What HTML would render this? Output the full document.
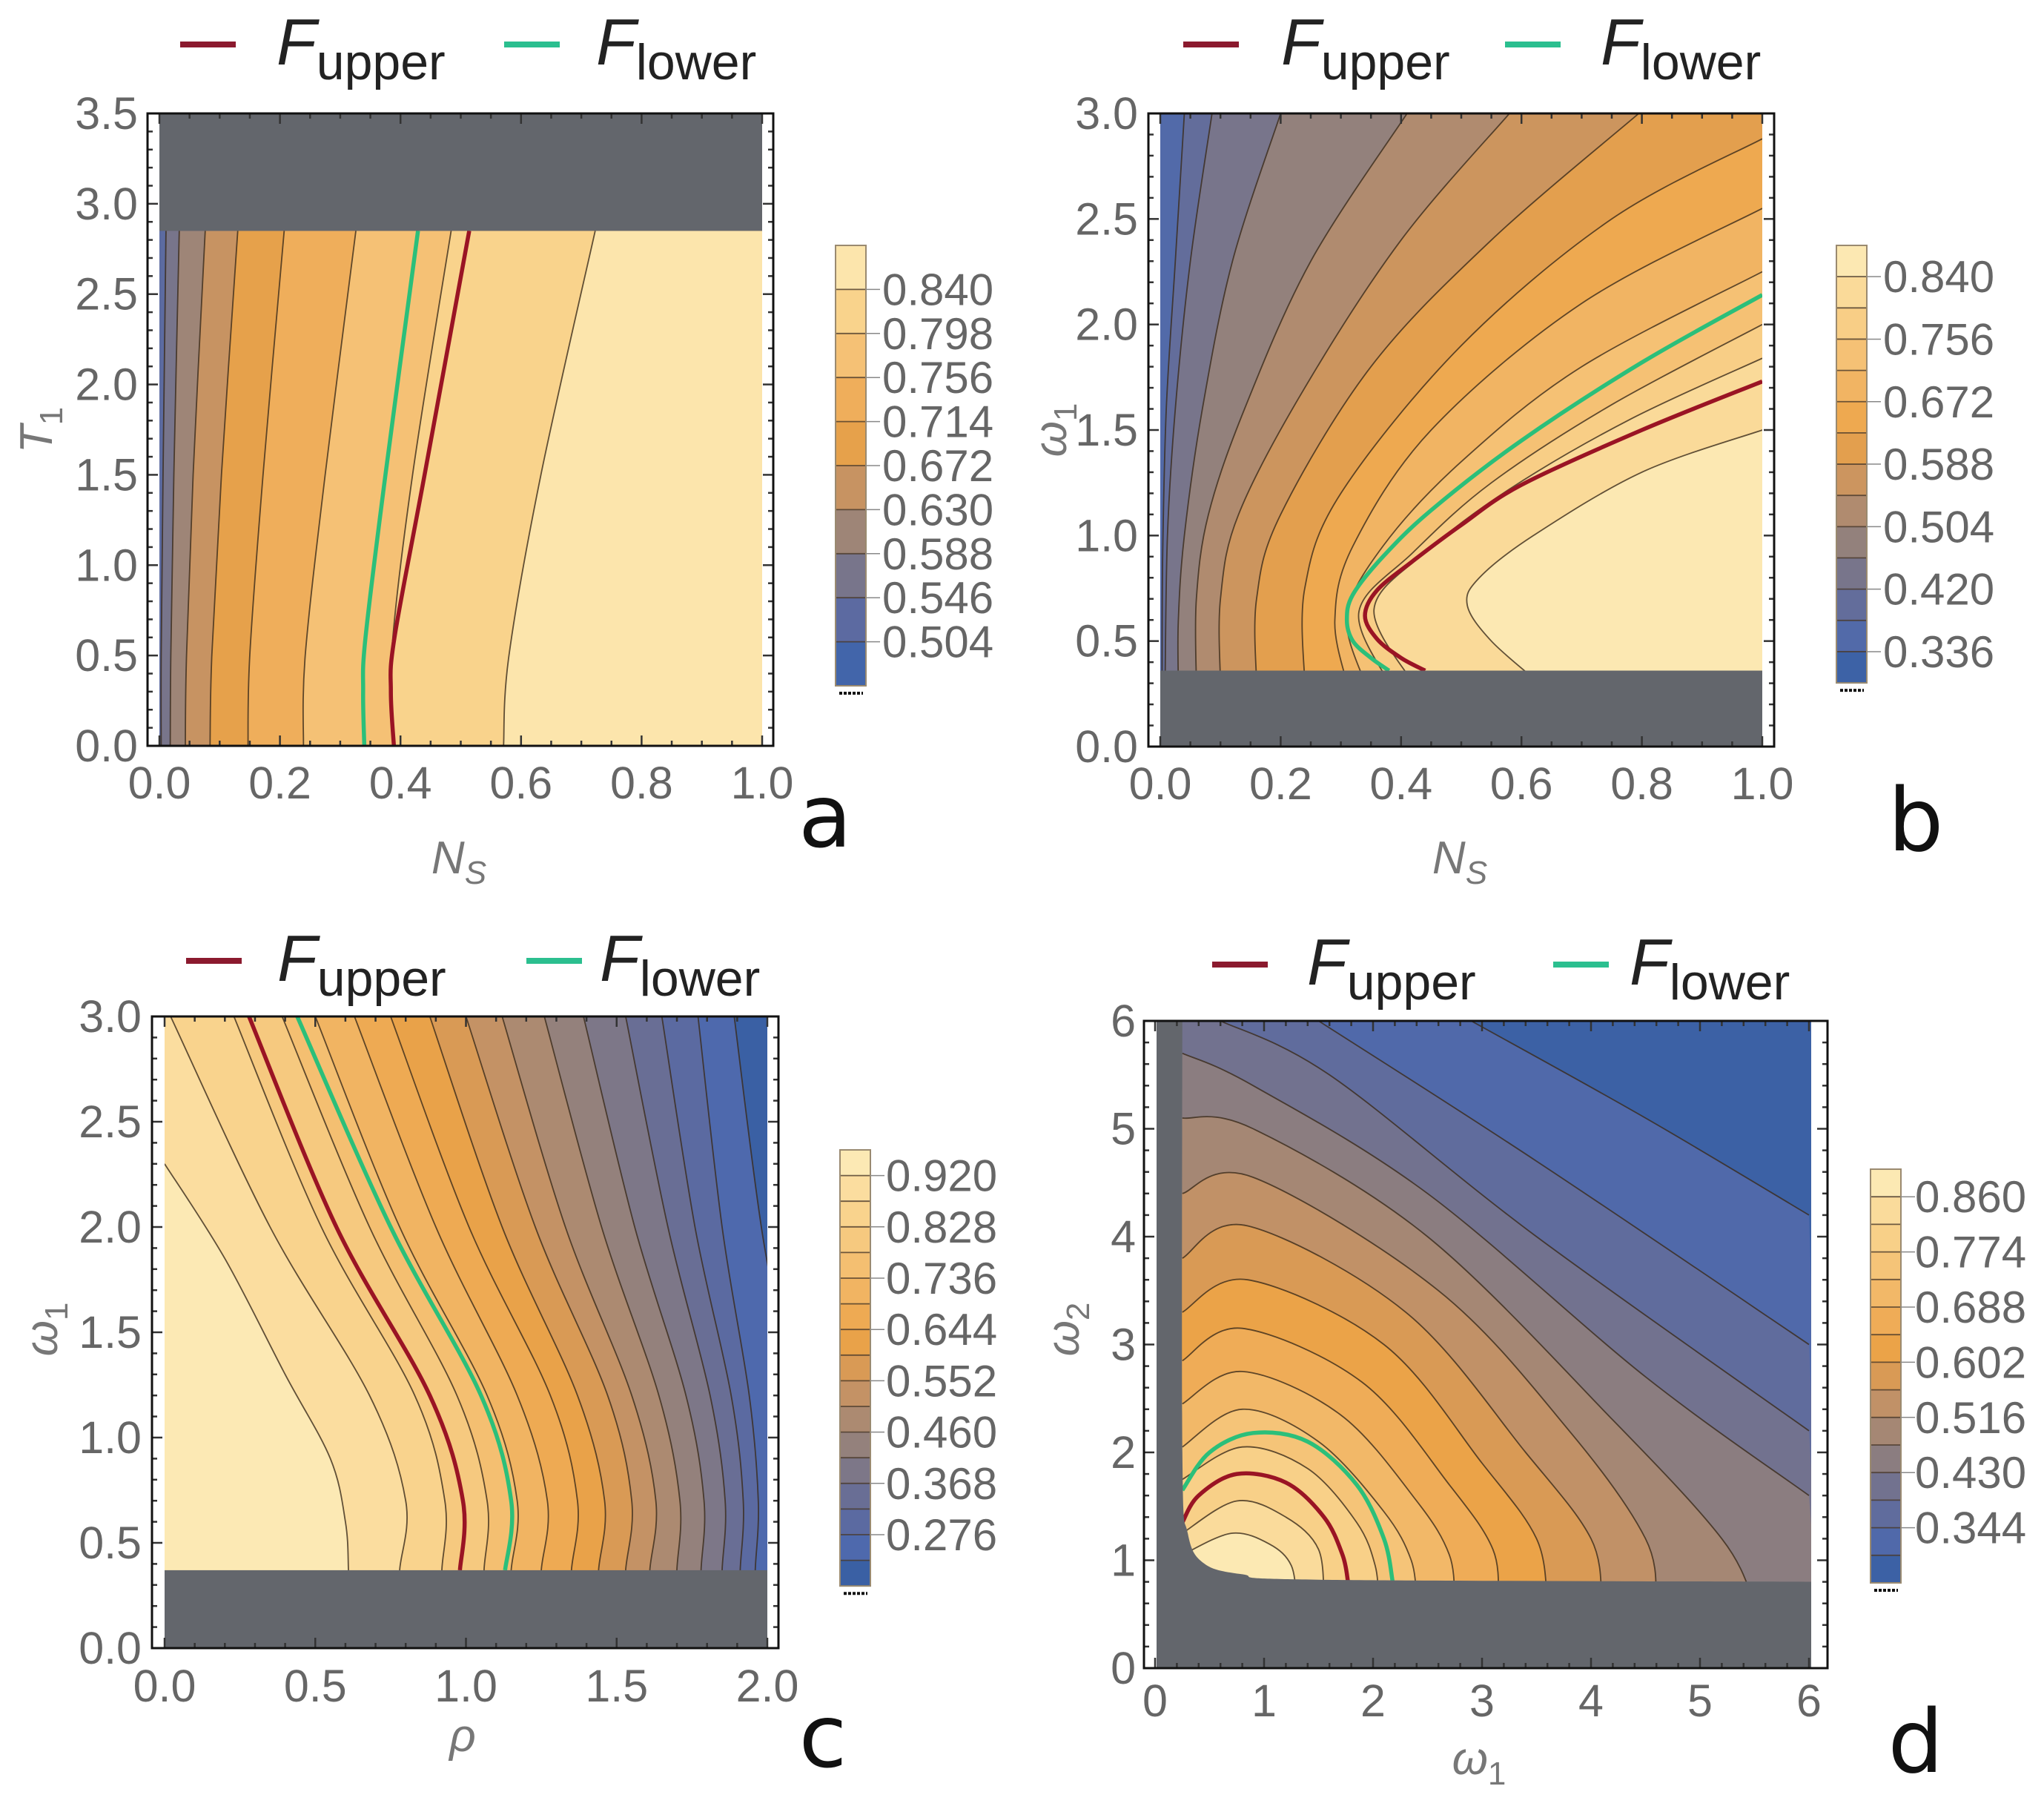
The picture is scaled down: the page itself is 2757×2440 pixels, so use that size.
<!DOCTYPE html>
<html>
<head>
<meta charset="utf-8">
<style>
html,body{margin:0;padding:0;background:#fff;}
svg{display:block;}
</style>
</head>
<body>
<svg id="chart" width="2757" height="2440" viewBox="0 0 2757 2440" xmlns="http://www.w3.org/2000/svg"></svg>
<script>
// ---------------- DATA ----------------
const palette = ['#fdf0c0','#fbe0a4','#f9d48e','#f6c77d','#f3bb6c','#efad59','#eca447','#d99a55','#bf9068','#a18676','#857b83','#6b6f93','#5a6aa2','#4a69b0','#2f5a9c'];

// Panel a : x = N_S, y = T_1
const aT = [0, 0.5, 1.5, 2.85];
const aLevels = [0.546,0.588,0.630,0.672,0.714,0.756,0.798,0.840];
const aContourN = [
  [0.003,0.003,0.006,0.011],
  [0.018,0.019,0.024,0.033],
  [0.043,0.045,0.056,0.076],
  [0.084,0.087,0.103,0.130],
  [0.147,0.150,0.172,0.207],
  [0.239,0.242,0.275,0.326],
  [0.389,0.385,0.420,0.484],
  [0.571,0.580,0.633,0.723]
];
const aLineT = [0, 0.3, 0.6, 1.5, 2.85];
const aGreenN = [0.340,0.338,0.342,0.375,0.429];
const aRedN = [0.389,0.384,0.390,0.440,0.514];
const aGrayFromT = 2.85;
const aBarLabels = [0.840,0.798,0.756,0.714,0.672,0.630,0.588,0.546,0.504];

// Panel b : x = N_S, y = omega_1
const bLevels = [0.378,0.420,0.462,0.504,0.546,0.588,0.630,0.672,0.714,0.756,0.798,0.840];
const bContours = [
  [[0.04,3],[0.025,2.3],[0.01,1.6],[0.004,0.9],[0.003,0.3]],
  [[0.086,3],[0.05,2.3],[0.025,1.6],[0.012,1.0],[0.008,0.3]],
  [[0.2,3],[0.12,2.3],[0.07,1.6],[0.04,1.0],[0.03,0.6],[0.03,0.3]],
  [[0.41,3],[0.25,2.3],[0.14,1.6],[0.08,1.1],[0.06,0.7],[0.06,0.3]],
  [[0.58,3],[0.4,2.4],[0.24,1.7],[0.13,1.1],[0.1,0.7],[0.1,0.3]],
  [[0.795,3],[0.55,2.4],[0.35,1.8],[0.2,1.1],[0.16,0.7],[0.16,0.3]],
  [[1,2.88],[0.75,2.5],[0.5,1.9],[0.3,1.2],[0.24,0.75],[0.24,0.3]],
  [[1,2.55],[0.7,2.1],[0.45,1.5],[0.32,0.95],[0.29,0.6],[0.31,0.3]],
  [[1,2.25],[0.7,1.8],[0.5,1.35],[0.37,0.95],[0.31,0.62],[0.34,0.3]],
  [[1,2.0],[0.75,1.62],[0.55,1.25],[0.42,0.92],[0.33,0.64],[0.38,0.3]],
  [[1,1.84],[0.78,1.55],[0.58,1.22],[0.44,0.92],[0.355,0.65],[0.42,0.3]],
  [[1,1.5],[0.8,1.3],[0.62,1.0],[0.53,0.8],[0.51,0.67],[0.55,0.5],[0.63,0.3]]
];
const bGreen = [[1,2.14],[0.8,1.82],[0.6,1.45],[0.45,1.12],[0.37,0.9],[0.32,0.72],[0.31,0.6],[0.32,0.5],[0.35,0.42],[0.38,0.36]];
const bRed = [[1,1.73],[0.8,1.5],[0.6,1.24],[0.5,1.05],[0.42,0.88],[0.36,0.74],[0.34,0.62],[0.36,0.51],[0.40,0.42],[0.44,0.36]];
const bGrayBelow = 0.36;
const bBarLabels = [0.840,0.756,0.672,0.588,0.504,0.420,0.336];

// Panel c : x = rho, y = omega_1
const cOmega = [3.0, 2.0, 1.2, 0.7, 0.37, 0.2];
const cLevels = [0.230,0.276,0.322,0.368,0.414,0.460,0.506,0.552,0.598,0.644,0.690,0.736,0.782,0.828,0.874];
const cContourRho = [
  [1.89,1.98,2.08,2.10,2.10,2.10],
  [1.77,1.85,1.94,1.97,1.96,1.96],
  [1.65,1.76,1.88,1.92,1.91,1.91],
  [1.53,1.67,1.81,1.86,1.85,1.85],
  [1.39,1.56,1.73,1.79,1.78,1.78],
  [1.26,1.45,1.64,1.71,1.70,1.70],
  [1.12,1.33,1.55,1.63,1.61,1.61],
  [1.00,1.23,1.47,1.55,1.53,1.53],
  [0.88,1.12,1.37,1.46,1.44,1.44],
  [0.75,1.01,1.28,1.37,1.35,1.35],
  [0.63,0.90,1.17,1.27,1.25,1.25],
  [0.50,0.78,1.07,1.17,1.15,1.15],
  [0.39,0.68,0.97,1.07,1.06,1.06],
  [0.23,0.52,0.83,0.93,0.92,0.92],
  [0.02,0.35,0.68,0.80,0.78,0.78]
];
const cWhiteLevel = 0.920;
const cWhite = [[0,2.3],[0.2,1.85],[0.4,1.3],[0.55,0.9],[0.6,0.6],[0.61,0.37],[0.61,0.2]];
const cGreenRho = [0.44,0.75,1.05,1.15,1.13];
const cRedRho = [0.28,0.57,0.88,0.99,0.98];
const cGrayBelow = 0.37;
const cBarLabels = [0.920,0.828,0.736,0.644,0.552,0.460,0.368,0.276];

// Panel d : x = omega_1, y = omega_2
const dLevels = [0.301,0.344,0.387,0.430,0.473,0.516,0.559,0.602,0.645,0.688,0.731,0.774,0.817,0.860];
const dContours = [
  [[2.9,6],[4.5,5.1],[6,4.2]],
  [[1.5,6],[3.5,4.7],[6,3.0]],
  [[0.6,6],[1.6,5.5],[3.5,4.0],[6,2.2]],
  [[0.25,5.7],[0.9,5.4],[2.5,4.4],[4.5,2.7],[6,1.6]],
  [[0.25,5.1],[0.9,5.0],[2.5,4.0],[4.2,2.3],[5.2,1.2],[5.5,0.6]],
  [[0.25,4.4],[0.9,4.55],[2.6,3.5],[3.8,2.2],[4.5,1.2],[4.6,0.6]],
  [[0.25,3.8],[0.85,4.1],[2.3,3.3],[3.4,2.0],[4.0,1.2],[4.1,0.6]],
  [[0.25,3.3],[0.85,3.6],[2.1,3.0],[3.0,1.9],[3.5,1.2],[3.6,0.6]],
  [[0.25,2.85],[0.8,3.15],[1.9,2.65],[2.7,1.7],[3.1,1.1],[3.15,0.6]],
  [[0.25,2.45],[0.8,2.75],[1.7,2.35],[2.4,1.55],[2.7,1.05],[2.75,0.6]],
  [[0.25,2.05],[0.8,2.4],[1.5,2.1],[2.1,1.45],[2.35,1.0],[2.4,0.6]],
  [[0.25,1.75],[0.8,2.05],[1.4,1.85],[1.85,1.35],[2.02,0.95],[2.05,0.6]],
  [[0.25,1.25],[0.75,1.55],[1.2,1.4],[1.5,1.1],[1.55,0.6]],
  [[0.25,1.05],[0.7,1.25],[1.05,1.15],[1.25,0.95],[1.3,0.6]]
];
const dRed = [[0.25,1.35],[0.4,1.6],[0.75,1.8],[1.2,1.72],[1.55,1.4],[1.72,1.05],[1.77,0.8]];
const dGreen = [[0.25,1.65],[0.5,2.0],[0.9,2.18],[1.4,2.1],[1.85,1.7],[2.1,1.2],[2.18,0.8]];
const dGrayEdge = [[0.25,6.2],[0.25,2.0],[0.3,1.25],[0.45,0.97],[0.8,0.87],[1.5,0.82],[6.2,0.8]];
const dBarLabels = [0.860,0.774,0.688,0.602,0.516,0.430,0.344];

// ---------------- HELPERS ----------------
const NS='http://www.w3.org/2000/svg';
const svg=document.getElementById('chart');
function mk(tag,attrs,parent){const e=document.createElementNS(NS,tag);for(const k in attrs)e.setAttribute(k,attrs[k]);(parent||svg).appendChild(e);return e;}
function scale(d0,d1,p0,p1){return v=>p0+(v-d0)*(p1-p0)/(d1-d0);}
function hex(c){return [parseInt(c.slice(1,3),16),parseInt(c.slice(3,5),16),parseInt(c.slice(5,7),16)];}
function colorAt(t){t=Math.max(0,Math.min(1,t));const f=(1-t)*(palette.length-1);const i=Math.floor(f);const j=Math.min(i+1,palette.length-1);const w=f-i;const a=hex(palette[i]),b=hex(palette[j]);return 'rgb('+a.map((v,k)=>Math.round(v+(b[k]-v)*w)).join(',')+')';}
function smooth(p){let d='M'+p[0][0].toFixed(1)+','+p[0][1].toFixed(1);for(let i=0;i<p.length-1;i++){const p0=p[i-1]||p[i],p1=p[i],p2=p[i+1],p3=p[i+2]||p2;const c1=[p1[0]+(p2[0]-p0[0])/6,p1[1]+(p2[1]-p0[1])/6];const c2=[p2[0]-(p3[0]-p1[0])/6,p2[1]-(p3[1]-p1[1])/6];d+=' C'+c1[0].toFixed(1)+','+c1[1].toFixed(1)+' '+c2[0].toFixed(1)+','+c2[1].toFixed(1)+' '+p2[0].toFixed(1)+','+p2[1].toFixed(1);}return d;}
function closeD(d,corners){return d+corners.map(c=>' L'+c[0].toFixed(1)+','+c[1].toFixed(1)).join('')+' Z';}
let clipId=0;
function mkClip(x,y,w,h){const id='clip'+(clipId++);const cp=mk('clipPath',{id:id});mk('rect',{x:x,y:y,width:w,height:h},cp);return id;}

function frame(g,x0,y0,x1,y1,sx,sy,xMaj,xMin,yMaj,yMin){
  const tk=mk('g',{stroke:'#333','stroke-width':2.5},g);
  
  
  xMaj.forEach(v=>{const x=sx(v);mk('line',{x1:x,y1:y1,x2:x,y2:y1-14},tk);mk('line',{x1:x,y1:y0,x2:x,y2:y0+14},tk);});
  xMin.forEach(v=>{const x=sx(v);mk('line',{x1:x,y1:y1,x2:x,y2:y1-7},tk);mk('line',{x1:x,y1:y0,x2:x,y2:y0+7},tk);});
  yMaj.forEach(v=>{const y=sy(v);mk('line',{x1:x0,y1:y,x2:x0+14,y2:y},tk);mk('line',{x1:x1,y1:y,x2:x1-14,y2:y},tk);});
  yMin.forEach(v=>{const y=sy(v);mk('line',{x1:x0,y1:y,x2:x0+7,y2:y},tk);mk('line',{x1:x1,y1:y,x2:x1-7,y2:y},tk);});
  const r=mk('rect',{x:x0,y:y0,width:x1-x0,height:y1-y0,fill:'none',stroke:'#111','stroke-width':3},g);
  
  
}
function range(a,b,s){const o=[];for(let v=a;v<=b+1e-9;v+=s)o.push(+v.toFixed(4));return o;}
function tickLabels(g,vals,fmt,sx,sy,axis,pos){
  vals.forEach(v=>{
    let t;
    if(axis==='x'){t=mk('text',{x:sx(v),y:pos,'text-anchor':'middle','font-size':61,fill:'#666','font-family':'Liberation Sans, sans-serif'},g);}
    else{t=mk('text',{x:pos,y:sy(v)+21,'text-anchor':'end','font-size':61,fill:'#666','font-family':'Liberation Sans, sans-serif'},g);}
    
    t.textContent=fmt(v);
  });
}
function colorbar(g,x,top,band,nb,vtop,step,labels,labelX){
  const cb=mk('g',{},g);
  
  
  const vbot=vtop-nb*step;
  for(let i=0;i<nb;i++){
    const mid=vtop-(i+0.5)*step;
    const r=mk('rect',{x:x,y:top+i*band,width:41,height:band+0.5,fill:colorAt((mid-vbot)/(vtop-vbot))},cb);
    
    
    if(i>0)mk('line',{x1:x,x2:x+41,y1:top+i*band,y2:top+i*band,stroke:'#4a3a2a','stroke-width':1.8,'stroke-opacity':0.8},cb);
  }
  mk('rect',{x:x,y:top,width:41,height:nb*band,fill:'none',stroke:'#9a8a70','stroke-width':2},cb);
  mk('line',{x1:x+5,x2:x+37,y1:top+nb*band+10,y2:top+nb*band+10,stroke:'#111','stroke-width':4,'stroke-dasharray':'4 2'},cb);
  labels.forEach(v=>{
    const y=top+(vtop-v)/step*band;
    mk('line',{x1:x+41,x2:x+60,y1:y,y2:y,stroke:'#888','stroke-width':1.5},cb);
    const t=mk('text',{x:labelX,y:y+21,'font-size':60,fill:'#666','font-family':'Liberation Sans, sans-serif'},cb);
    
    
    t.textContent=v.toFixed(3);
  });
}
function legend(g,y,l1,f1,l2,f2){
  const lg=mk('g',{'font-family':'Liberation Sans, sans-serif',fill:'#222'},g);
  
  
  const e1=mk('g',{},lg);
  
  
  mk('line',{x1:l1,x2:l1+75,y1:y,y2:y,stroke:'#8b1a2e','stroke-width':8},e1);
  const t1=mk('text',{x:f1,y:y+27},e1);
  t1.innerHTML='<tspan font-style="italic" font-size="88">F</tspan><tspan font-size="68" dy="20">upper</tspan>';
  const e2=mk('g',{},lg);
  
  
  mk('line',{x1:l2,x2:l2+75,y1:y,y2:y,stroke:'#2bbf8f','stroke-width':8},e2);
  const t2=mk('text',{x:f2,y:y+27},e2);
  t2.innerHTML='<tspan font-style="italic" font-size="88">F</tspan><tspan font-size="68" dy="20">lower</tspan>';
}
function axisTitle(g,x,y,html,rot,name){
  const t=mk('text',{x:x,y:y,'text-anchor':'middle','font-size':62,fill:'#777','font-family':'Liberation Sans, sans-serif'},g);
  if(rot)t.setAttribute('transform','rotate(-90 '+x+' '+y+')');
  
  
  t.innerHTML=html;
}
function letter(g,x,y,s){
  const t=mk('text',{x:x,y:y,'text-anchor':'middle','font-size':118,fill:'#111','font-family':'DejaVu Sans, sans-serif'},g);
  
  
  t.textContent=s;
}
function contourLine(g,d,name){const p=mk('path',{d:d,fill:'none',stroke:'#3a2a1a','stroke-width':1.8,'stroke-opacity':0.8},g);}
function fLine(g,d,color,name){const p=mk('path',{d:d,fill:'none',stroke:color,'stroke-width':5.5},g);}
const GRAY='#63666c';
const f1=v=>v.toFixed(1), f0=v=>v.toFixed(0);

// ---------------- PANEL A ----------------
(function(){
  const g=mk('g',{});
  
  
  const sx=scale(0,1,215,1028), sy=scale(0,3.5,1006,153);
  const vtop=0.882, step=0.042, vbot=0.462;
  const cid=mkClip(215,153,813,853);
  const area=mk('g',{'clip-path':'url(#'+cid+')'},g);
  
  
  mk('rect',{x:200,y:140,width:900,height:900,fill:colorAt((aLevels[0]-step/2-vbot)/(vtop-vbot))},area);
  aContourN.forEach((row,k)=>{
    const pts=row.map((n,i)=>[sx(n),sy(aT[i])]);
    const d=smooth(pts);
    const p=mk('path',{d:closeD(d,[[sx(1.1),pts[pts.length-1][1]],[sx(1.1),sy(0)+5],[pts[0][0],sy(0)+5]]),fill:colorAt((aLevels[k]+step/2-vbot)/(vtop-vbot))},area);
    
    
  });
  aContourN.forEach(row=>{contourLine(area,smooth(row.map((n,i)=>[sx(n),sy(aT[i])])),'contour-line');});
  fLine(area,smooth(aGreenN.map((n,i)=>[sx(n),sy(aLineT[i])])),'#2bbf7a','f-lower-curve');
  fLine(area,smooth(aRedN.map((n,i)=>[sx(n),sy(aLineT[i])])),'#9a1424','f-upper-curve');
  const gr=mk('rect',{x:200,y:140,width:900,height:sy(aGrayFromT)-140,fill:GRAY},area);
  
  
  frame(g,199,153,1043,1006,sx,sy,range(0,1,0.2),range(0.05,0.95,0.05).filter(v=>Math.abs(v*5-Math.round(v*5))>1e-6),range(0,3.5,0.5),range(0.1,3.4,0.1).filter(v=>Math.abs(v*2-Math.round(v*2))>1e-6));
  tickLabels(g,range(0,1,0.2),f1,sx,sy,'x',1077);
  tickLabels(g,range(0,3.5,0.5),f1,sx,sy,'y',186);
  colorbar(g,1127,331,59.4,10,vtop,step,aBarLabels,1190);
  legend(g,60,243,373,680,804);
  axisTitle(g,619,1178,'<tspan font-style="italic">N</tspan><tspan font-size="44" dy="14" font-style="italic">S</tspan>',false,'x-axis-title');
  axisTitle(g,70,580,'<tspan font-style="italic">T</tspan><tspan font-size="44" dy="14">1</tspan>',true,'y-axis-title');
  letter(g,1113,1142,'a');
})();

// ---------------- PANEL B ----------------
(function(){
  const g=mk('g',{});
  
  
  const sx=scale(0,1,1565,2377), sy=scale(0,3,1007,153);
  const vtop=0.882, step=0.042, vbot=0.294;
  const cid=mkClip(1565,153,812,854);
  const area=mk('g',{'clip-path':'url(#'+cid+')'},g);
  
  
  mk('rect',{x:1550,y:140,width:900,height:900,fill:colorAt((bLevels[0]-step/2-vbot)/(vtop-vbot))},area);
  bContours.forEach((c,k)=>{
    const pts=c.map(p=>[sx(p[0]),sy(p[1])]);
    const first=pts[0],last=pts[pts.length-1];
    const p=mk('path',{d:closeD(smooth(pts),[[sx(1.1),last[1]],[sx(1.1),first[1]-(c[0][1]>=3?20:0)],[first[0],first[1]-(c[0][1]>=3?20:0)]]),fill:colorAt((bLevels[k]+step/2-vbot)/(vtop-vbot))},area);
    
    
  });
  bContours.forEach(c=>contourLine(area,smooth(c.map(p=>[sx(p[0]),sy(p[1])])),'contour-line'));
  fLine(area,smooth(bGreen.map(p=>[sx(p[0]),sy(p[1])])),'#2bbf7a','f-lower-curve');
  fLine(area,smooth(bRed.map(p=>[sx(p[0]),sy(p[1])])),'#9a1424','f-upper-curve');
  const gr=mk('rect',{x:1550,y:sy(bGrayBelow),width:900,height:1020-sy(bGrayBelow),fill:GRAY},area);
  
  
  frame(g,1549,153,2393,1007,sx,sy,range(0,1,0.2),range(0.05,0.95,0.05).filter(v=>Math.abs(v*5-Math.round(v*5))>1e-6),range(0,3,0.5),range(0.1,2.9,0.1).filter(v=>Math.abs(v*2-Math.round(v*2))>1e-6));
  tickLabels(g,range(0,1,0.2),f1,sx,sy,'x',1078);
  tickLabels(g,range(0,3,0.5),f1,sx,sy,'y',1535);
  colorbar(g,2477,331,42.15,14,vtop,step,bBarLabels,2540);
  legend(g,60,1596,1728,2030,2159);
  axisTitle(g,1969,1178,'<tspan font-style="italic">N</tspan><tspan font-size="44" dy="14" font-style="italic">S</tspan>',false,'x-axis-title');
  axisTitle(g,1438,580,'<tspan font-style="italic">ω</tspan><tspan font-size="44" dy="14">1</tspan>',true,'y-axis-title');
  letter(g,2584,1147,'b');
})();

// ---------------- PANEL C ----------------
(function(){
  const g=mk('g',{});
  
  
  const sx=scale(0,2,222,1035), sy=scale(0,3,2223,1371);
  const vtop=0.966, step=0.046, vbot=0.184;
  const cid=mkClip(222,1371,813,852);
  const area=mk('g',{'clip-path':'url(#'+cid+')'},g);
  
  
  mk('rect',{x:200,y:1350,width:900,height:900,fill:colorAt((cLevels[0]-step/2-vbot)/(vtop-vbot))},area);
  const lines=cContourRho.map(row=>row.map((r,i)=>[sx(r),sy(cOmega[i])]));
  lines.forEach((pts,k)=>{
    const first=pts[0],last=pts[pts.length-1];
    const p=mk('path',{d:closeD(smooth(pts),[[sx(-0.1),last[1]],[sx(-0.1),first[1]-20],[first[0],first[1]-20]]),fill:colorAt((cLevels[k]+step/2-vbot)/(vtop-vbot))},area);
    
    
  });
  const wpts=cWhite.map(p=>[sx(p[0]),sy(p[1])]);
  const wp=mk('path',{d:closeD(smooth(wpts),[[sx(-0.1),wpts[wpts.length-1][1]],[sx(-0.1),wpts[0][1]]]),fill:colorAt((cWhiteLevel+step/2-vbot)/(vtop-vbot))},area);
  
  
  lines.forEach(pts=>contourLine(area,smooth(pts),'contour-line'));
  contourLine(area,smooth(wpts),'contour-line');
  fLine(area,smooth(cRedRho.map((r,i)=>[sx(r),sy(cOmega[i])])),'#9a1424','f-upper-curve');
  fLine(area,smooth(cGreenRho.map((r,i)=>[sx(r),sy(cOmega[i])])),'#2bbf7a','f-lower-curve');
  const gr=mk('rect',{x:200,y:sy(cGrayBelow),width:900,height:2240-sy(cGrayBelow),fill:GRAY},area);
  
  
  frame(g,205,1371,1050,2223,sx,sy,range(0,2,0.5),range(0.1,1.9,0.1).filter(v=>Math.abs(v*2-Math.round(v*2))>1e-6),range(0,3,0.5),range(0.1,2.9,0.1).filter(v=>Math.abs(v*2-Math.round(v*2))>1e-6));
  tickLabels(g,range(0,2,0.5),f1,sx,sy,'x',2295);
  tickLabels(g,range(0,3,0.5),f1,sx,sy,'y',191);
  colorbar(g,1133,1551,34.6,17,vtop,step,cBarLabels,1195);
  legend(g,1296,251,374,710,809);
  axisTitle(g,624,2362,'<tspan font-style="italic">ρ</tspan>',false,'x-axis-title');
  axisTitle(g,77,1793,'<tspan font-style="italic">ω</tspan><tspan font-size="44" dy="14">1</tspan>',true,'y-axis-title');
  letter(g,1110,2383,'c');
})();

// ---------------- PANEL D ----------------
(function(){
  const g=mk('g',{});
  
  
  const sx=scale(0,6,1558,2440), sy=scale(0,6,2250,1377);
  const vtop=0.903, step=0.043, vbot=0.258;
  const cid=mkClip(1560,1377,883,873);
  const area=mk('g',{'clip-path':'url(#'+cid+')'},g);
  
  
  mk('rect',{x:1540,y:1360,width:950,height:900,fill:colorAt((dLevels[0]-step/2-vbot)/(vtop-vbot))},area);
  dContours.forEach((c,k)=>{
    const pts=c.map(p=>[sx(p[0]),sy(p[1])]);
    const first=pts[0],last=pts[pts.length-1];
    const p=mk('path',{d:closeD(smooth(pts),[[last[0]+(c[c.length-1][0]>=6?20:0),sy(-0.2)],[sx(-0.2),sy(-0.2)],[sx(-0.2),first[1]-(c[0][1]>=6?20:0)],[first[0],first[1]-(c[0][1]>=6?20:0)]]),fill:colorAt((dLevels[k]+step/2-vbot)/(vtop-vbot))},area);
    
    
  });
  dContours.forEach(c=>contourLine(area,smooth(c.map(p=>[sx(p[0]),sy(p[1])])),'contour-line'));
  fLine(area,smooth(dRed.map(p=>[sx(p[0]),sy(p[1])])),'#9a1424','f-upper-curve');
  fLine(area,smooth(dGreen.map(p=>[sx(p[0]),sy(p[1])])),'#2bbf7a','f-lower-curve');
  const gpts=dGrayEdge.map(p=>[sx(p[0]),sy(p[1])]);
  const gr=mk('path',{d:closeD(smooth(gpts),[[sx(6.2),sy(-0.3)],[sx(-0.3),sy(-0.3)],[sx(-0.3),sy(6.2)]]),fill:GRAY},area);
  
  
  frame(g,1543,1377,2465,2250,sx,sy,range(0,6,1),range(0.2,5.8,0.2).filter(v=>Math.abs(v-Math.round(v))>1e-6),range(0,6,1),range(0.2,5.8,0.2).filter(v=>Math.abs(v-Math.round(v))>1e-6));
  tickLabels(g,range(0,6,1),f0,sx,sy,'x',2315);
  tickLabels(g,range(0,6,1),f0,sx,sy,'y',1532);
  colorbar(g,2523,1577,37.2,15,vtop,step,dBarLabels,2583);
  legend(g,1301,1635,1763,2095,2198);
  axisTitle(g,1995,2393,'<tspan font-style="italic">ω</tspan><tspan font-size="44" dy="14">1</tspan>',false,'x-axis-title');
  axisTitle(g,1455,1793,'<tspan font-style="italic">ω</tspan><tspan font-size="44" dy="14">2</tspan>',true,'y-axis-title');
  letter(g,2584,2390,'d');
})();
</script>
</body>
</html>
